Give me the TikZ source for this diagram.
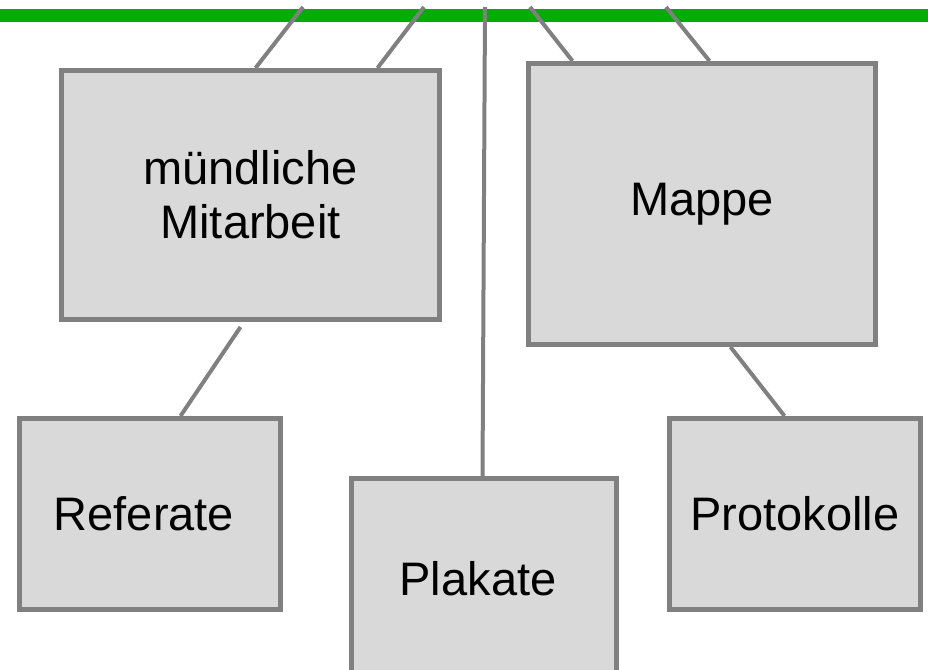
\documentclass[tikz,border=0pt]{standalone}
\usepackage{fontspec}
\setmainfont{Liberation Sans}
\usetikzlibrary{calc}
\definecolor{bargreen}{RGB}{0,174,0}
\definecolor{boxgray}{RGB}{128,128,128}
\definecolor{boxfill}{RGB}{217,217,217}
\tikzset{
  box/.style={draw=boxgray, fill=boxfill, line width=5pt, inner sep=0pt,
    align=center, font=\fontsize{47}{54}\selectfont, text=black},
  conn/.style={draw=boxgray, line width=4pt},
  barstyle/.style={fill=bargreen, draw=none, inner sep=0pt}
}
\begin{document}
\begin{tikzpicture}[x=1pt,y=-1pt]
\useasboundingbox (0,0) rectangle (928,669);
% green bar
\node[barstyle, minimum width=928pt, minimum height=13pt] (bar) at (464,15.5) {};
\coordinate (t1) at (303,7);
\coordinate (t2) at (424,7);
\coordinate (t3) at (485,7);
\coordinate (t4) at (530,7);
\coordinate (t5) at (666,7);
% boxes
\node[box, minimum width=378pt, minimum height=249pt] (mm) at (250.5,195) {mündliche\\Mitarbeit};
\node[box, minimum width=347pt, minimum height=281pt] (mappe) at (702,204) {Mappe};
\node[box, minimum width=261pt, minimum height=191pt] (ref) at (150,514) {Referate\hspace*{12pt}};
\node[box, minimum width=265pt, minimum height=201pt] (plak) at (484,579) {Plakate\hspace*{12pt}};
\node[box, minimum width=251pt, minimum height=191pt] (prot) at (795,514) {Protokolle};
% connectors
\draw[conn] (t1) -- ($(mm.north west)+(196.5,0)$);
\draw[conn] (t2) -- ($(mm.north west)+(318.5,0)$);
\draw[conn] (t3) -- ($(plak.north west)+(133.5,0)$);
\draw[conn] (t4) -- ($(mappe.north west)+(46.5,0)$);
\draw[conn] (t5) -- ($(mappe.north west)+(183.5,0)$);
\draw[conn] ($(mm.south west)+(181.5,5)$) -- ($(ref.north west)+(163.5,0)$);
\draw[conn] ($(mappe.south west)+(204.5,0)$) -- ($(prot.north west)+(117.5,0)$);
\end{tikzpicture}
\end{document}
